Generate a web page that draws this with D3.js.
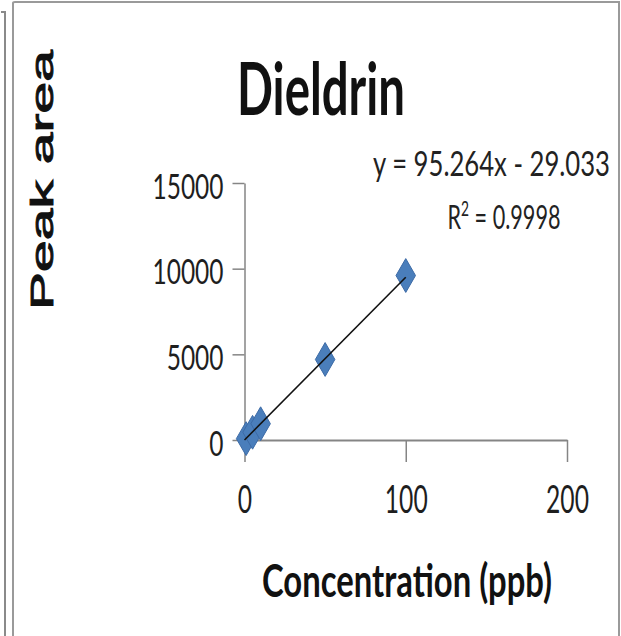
<!DOCTYPE html>
<html>
<head>
<meta charset="utf-8">
<script src="https://cdn.jsdelivr.net/npm/d3@7"></script>
<style>
  html, body { margin: 0; padding: 0; background: #fff; }
  svg { display: block; }
</style>
</head>
<body>
<svg id="chart" width="621" height="636"></svg>
<script>
// ---- data ----
const concentrations = [1, 5, 10, 50, 100];          // ppb
const peakAreas      = [80, 450, 950, 4700, 9600];   // peak area
const xTickValues    = [0, 100, 200];
const yTickValues    = [0, 5000, 10000, 15000];
const trendSlope     = 95.264;
const trendIntercept = -29.033;
const trendR2        = 0.9998;
const chartTitle     = "Dieldrin";
const xAxisTitle     = "Concentration (ppb)";
const yAxisTitle     = "Peak area";

const svg = d3.select("#chart");
const W = 621, H = 636;

// frames (panel borders)
svg.append("rect").attr("x", 0).attr("y", 0).attr("width", W).attr("height", H).attr("fill", "#fff");
svg.append("path").attr("d", "M1,12 L5,12 L5,636").attr("fill", "none").attr("stroke", "#8a8a8a").attr("stroke-width", 2);
svg.append("path").attr("d", "M13,636 L13,3 Q13,2 15,2 L619,2 L619,636")
  .attr("fill", "none").attr("stroke", "#9a9a9a").attr("stroke-width", 2);

const x = d3.scaleLinear().domain([0, 200]).range([244.5, 567]);
const y = d3.scaleLinear().domain([0, 15000]).range([440, 183]);

const font = "Lato, 'Open Sans', sans-serif";

// Y axis
const gy = svg.append("g").attr("transform", `translate(${x(0)},0)`)
  .call(d3.axisLeft(y).tickValues(yTickValues).tickSize(12).tickSizeOuter(0).tickPadding(9).tickFormat(d3.format("d")));
gy.select(".domain").attr("stroke", "#858585").attr("stroke-width", 1.5);
gy.selectAll(".tick line").attr("stroke", "#858585").attr("stroke-width", 1.5);
gy.selectAll(".tick text")
  .attr("font-family", font).attr("font-size", 35).attr("fill", "#1e1e1e")
  .attr("dy", 0).attr("y", 15)
  .attr("textLength", d => String(d).length * 14.2).attr("lengthAdjust", "spacingAndGlyphs");

// X axis
const gx = svg.append("g").attr("transform", `translate(0,${y(0)})`)
  .call(d3.axisBottom(x).tickValues(xTickValues).tickSize(22).tickSizeOuter(0).tickFormat(d3.format("d")));
gx.select(".domain").attr("stroke", "#858585").attr("stroke-width", 2);
gx.selectAll(".tick line").attr("stroke", "#858585").attr("stroke-width", 1.5);
gx.selectAll(".tick text")
  .attr("font-family", font).attr("font-size", 38).attr("fill", "#1e1e1e")
  .attr("dy", 0).attr("y", 73)
  .attr("textLength", d => String(d).length * 14.3).attr("lengthAdjust", "spacingAndGlyphs");

// markers
const pts = concentrations.map((c, i) => ({ c, a: peakAreas[i] }));
svg.append("g").selectAll("path").data(pts).join("path")
  .attr("d", d3.symbol().type(d3.symbolDiamond).size(330))
  .attr("transform", d => `translate(${x(d.c)},${y(d.a)})`)
  .attr("fill", "#4a7ebb").attr("stroke", "#3d6ba6").attr("stroke-width", 1);

// trendline
const xMax = d3.max(concentrations);
svg.append("line")
  .attr("x1", x(0)).attr("y1", y(Math.max(0, trendIntercept)))
  .attr("x2", x(xMax)).attr("y2", y(trendSlope * xMax + trendIntercept))
  .attr("stroke", "#111").attr("stroke-width", 1.6);

// title
svg.append("text").attr("x", 321).attr("y", 115).attr("text-anchor", "middle")
  .attr("font-family", font).attr("font-weight", "bold").attr("font-size", 72).attr("fill", "#111")
  .attr("textLength", 168).attr("lengthAdjust", "spacingAndGlyphs")
  .text(chartTitle);

// equation
svg.append("text").attr("x", 491.5).attr("y", 176).attr("text-anchor", "middle")
  .attr("font-family", font).attr("font-size", 34).attr("fill", "#222")
  .attr("textLength", 237).attr("lengthAdjust", "spacingAndGlyphs")
  .text(`y = ${trendSlope}x - ${Math.abs(trendIntercept)}`);
const r2 = svg.append("text").attr("x", 504).attr("y", 229).attr("text-anchor", "middle")
  .attr("font-family", font).attr("font-size", 33).attr("fill", "#222")
  .attr("textLength", 113).attr("lengthAdjust", "spacingAndGlyphs");
r2.append("tspan").text("R");
r2.append("tspan").attr("font-size", 21).attr("dy", -13).text("2");
r2.append("tspan").attr("dy", 13).text(` = ${trendR2}`);

// x axis title
svg.append("text").attr("x", 407).attr("y", 597).attr("text-anchor", "middle")
  .attr("font-family", font).attr("font-weight", "bold").attr("font-size", 46).attr("fill", "#111")
  .attr("textLength", 290).attr("lengthAdjust", "spacingAndGlyphs")
  .text(xAxisTitle);

// y axis title
svg.append("text").attr("transform", "translate(53,180) rotate(-90)").attr("text-anchor", "middle")
  .attr("font-family", "'Liberation Sans', Arial, sans-serif").attr("font-size", 32).attr("fill", "#111")
  .attr("stroke", "#111").attr("stroke-width", 0.9)
  .attr("textLength", 260).attr("lengthAdjust", "spacingAndGlyphs")
  .text(yAxisTitle);
</script>
</body>
</html>
